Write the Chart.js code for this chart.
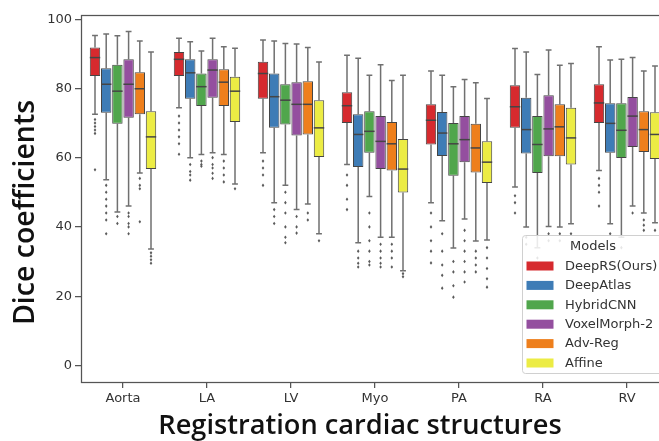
<!DOCTYPE html>
<html>
<head>
<meta charset="utf-8">
<script src="https://cdn.jsdelivr.net/npm/chart.js@4.4.0/dist/chart.umd.min.js"></script>
<style>
    html, body { margin: 0; padding: 0; background: #fff; overflow: hidden; }
    #wrap { width: 659px; height: 441px; overflow: hidden; position: relative; }
    canvas { display: block; }
</style>
</head>
<body>
<div id="wrap"><canvas id="myChart" width="680" height="441" style="width:680px;height:441px"></canvas></div>
<script>
const structures = ['Aorta', 'LA', 'LV', 'Myo', 'PA', 'RA', 'RV'];
const models = ['DeepRS(Ours)', 'DeepAtlas', 'HybridCNN', 'VoxelMorph-2', 'Adv-Reg', 'Affine'];
const modelColors = ['#d62a2e', '#3e7cb6', '#50a64c', '#944f9f', '#ee7f1c', '#ecec44'];
const yTicks = [0, 20, 40, 60, 80, 100];

// one row per model, one column per structure
const whiskerHigh = [
    [95.3, 94.5, 94.0, 89.6, 85.0, 91.5, 92.0],
    [95.7, 93.5, 93.7, 88.7, 83.8, 90.5, 88.2],
    [95.2, 90.8, 93.0, 83.8, 80.5, 84.0, 88.4],
    [96.4, 94.5, 92.8, 86.8, 82.6, 91.1, 88.9],
    [93.7, 92.0, 91.8, 82.3, 81.6, 86.7, 85.0],
    [90.5, 91.6, 87.6, 83.8, 77.1, 87.2, 86.5]
];
const q3 = [
    [91.8, 90.5, 87.7, 78.9, 75.4, 80.9, 81.2],
    [85.8, 88.4, 84.3, 72.5, 73.2, 77.3, 75.7],
    [86.8, 84.3, 81.2, 73.4, 70.0, 72.0, 75.7],
    [88.4, 88.4, 81.8, 72.0, 72.0, 78.0, 77.5],
    [84.7, 85.5, 82.1, 70.3, 69.8, 75.4, 73.4],
    [73.4, 83.4, 76.6, 65.4, 64.7, 74.4, 73.1]
];
const medians = [
    [88.9, 88.4, 84.3, 75.0, 70.8, 74.7, 75.8],
    [81.2, 84.5, 77.6, 66.7, 67.1, 68.1, 69.9],
    [79.2, 80.5, 76.6, 67.6, 64.0, 63.8, 67.9],
    [81.2, 85.3, 75.4, 64.7, 65.2, 68.3, 72.0],
    [79.9, 81.8, 75.4, 64.0, 62.8, 68.9, 68.1],
    [66.0, 79.2, 68.6, 56.7, 58.7, 65.7, 66.7]
];
const q1 = [
    [83.6, 83.6, 77.0, 70.0, 63.8, 68.6, 70.0],
    [73.0, 77.0, 68.6, 57.3, 60.5, 61.2, 61.4],
    [69.8, 74.9, 69.6, 61.4, 54.8, 55.6, 59.9],
    [71.5, 77.3, 66.4, 56.7, 58.7, 60.4, 63.1],
    [72.5, 74.9, 66.7, 56.3, 55.7, 60.4, 61.6],
    [56.7, 70.3, 60.2, 49.9, 52.7, 58.0, 59.6]
];
const whiskerLow = [
    [72.5, 74.4, 61.4, 58.0, 47.0, 51.5, 56.3],
    [53.6, 60.0, 47.0, 35.4, 41.8, 40.0, 40.9],
    [44.3, 60.9, 52.0, 48.8, 33.9, 34.0, 37.0],
    [46.0, 61.4, 45.0, 37.0, 42.3, 40.1, 46.0],
    [55.6, 60.9, 46.6, 37.0, 35.9, 40.0, 44.0],
    [33.6, 52.4, 38.0, 27.3, 36.2, 40.9, 41.2]
];
const fliers = [
    [[71, 70, 69, 68, 67, 56.5], [72, 70, 68, 66, 64, 61], [59, 57, 55, 52], [55, 52, 48, 45], [44, 40, 36, 33, 29.6], [49, 47, 44], [54, 52, 50, 46]],
    [[52, 50, 48, 46, 44, 42, 38], [58, 56, 55, 53.5], [45, 43, 41], [33, 31, 29.5, 28.4], [38, 33, 29, 26, 22.3], [37, 35], [38]],
    [[43, 41], [59, 58, 57.5], [50, 47, 44, 40, 37, 35.4], [44, 40, 36, 33, 30, 29], [30, 27, 23, 19.7], [31], [34]],
    [[44, 43, 41, 40, 38], [60, 58, 57, 55.5, 54], [43, 40, 38.2], [35, 33, 31, 29.5, 28.4], [39, 36, 33, 30, 27, 24.1], [38, 36], [44]],
    [[54, 52, 51, 41.5], [59, 57, 55, 53], [44, 42], [35, 33, 31, 28.4], [33, 31, 29, 27], [38, 36], [42, 40.5, 39]],
    [[32.5, 31.5, 30.5, 29.5], [51], [36], [26.5, 25.6], [34, 31, 28, 25, 22.6], [38], [39]]
];

const EDGE = '#454545';
const WHISKER = '#707070';

// font size that makes the text this wide
function fitFont(ctx, text, width) {
    ctx.font = '600 24px "Open Sans"';
    const w = ctx.measureText(text).width;
    return 24 * width / w;
}

const boxParts = {
    id: 'boxParts',
    beforeDatasetsDraw(chart) {
        const ctx = chart.ctx;
        const yScale = chart.scales.y;
        ctx.save();
        chart.data.datasets.forEach(function (ds, i) {
            chart.getDatasetMeta(i).data.forEach(function (bar, j) {
                const x = bar.x;
                const capW = bar.width * 0.28;
                const yHi = yScale.getPixelForValue(whiskerHigh[i][j]);
                const yLo = yScale.getPixelForValue(whiskerLow[i][j]);
                const yTop = yScale.getPixelForValue(q3[i][j]);
                const yBot = yScale.getPixelForValue(q1[i][j]);
                ctx.strokeStyle = WHISKER;
                ctx.lineWidth = 1.5;
                ctx.beginPath();
                ctx.moveTo(x, yTop); ctx.lineTo(x, yHi);
                ctx.moveTo(x, yBot); ctx.lineTo(x, yLo);
                ctx.moveTo(x - capW, yHi); ctx.lineTo(x + capW, yHi);
                ctx.moveTo(x - capW, yLo); ctx.lineTo(x + capW, yLo);
                ctx.stroke();
                ctx.fillStyle = '#5a5a5a';
                fliers[i][j].forEach(function (v) {
                    const py = yScale.getPixelForValue(v);
                    ctx.beginPath();
                    ctx.moveTo(x, py - 1.8);
                    ctx.lineTo(x + 1.3, py);
                    ctx.lineTo(x, py + 1.8);
                    ctx.lineTo(x - 1.3, py);
                    ctx.closePath();
                    ctx.fill();
                });
            });
        });
        ctx.restore();
    },
    afterDatasetsDraw(chart) {
        const ctx = chart.ctx;
        const yScale = chart.scales.y;
        ctx.save();
        ctx.strokeStyle = EDGE;
        ctx.lineWidth = 1.5;
        chart.data.datasets.forEach(function (ds, i) {
            chart.getDatasetMeta(i).data.forEach(function (bar, j) {
                const ym = yScale.getPixelForValue(medians[i][j]);
                ctx.beginPath();
                ctx.moveTo(bar.x - bar.width / 2, ym);
                ctx.lineTo(bar.x + bar.width / 2, ym);
                ctx.stroke();
            });
        });
        ctx.restore();
    },
    afterDraw(chart) {
        const ctx = chart.ctx;
        const a = chart.chartArea;
        ctx.save();
        // frame
        ctx.strokeStyle = '#555';
        ctx.lineWidth = 1.25;
        ctx.strokeRect(a.left + 0.5, a.top + 0.5, a.right - a.left, a.bottom - a.top);

        // axis titles
        const xTitle = 'Registration cardiac structures';
        const yTitle = 'Dice coefficients';
        ctx.fillStyle = '#111';
        ctx.textAlign = 'center';
        ctx.textBaseline = 'alphabetic';
        ctx.font = '600 ' + fitFont(ctx, xTitle, 404).toFixed(1) + 'px "Open Sans"';
        ctx.fillText(xTitle, 360, 434);
        ctx.save();
        ctx.font = '600 ' + fitFont(ctx, yTitle, 225).toFixed(1) + 'px "Open Sans"';
        ctx.translate(34, 212.5);
        ctx.rotate(-Math.PI / 2);
        ctx.fillText(yTitle, 0, 0);
        ctx.restore();

        // legend
        const lx = 522, ly = 235, lw = 142, lh = 138;
        ctx.fillStyle = 'rgba(255,255,255,0.85)';
        ctx.strokeStyle = '#d0d0d0';
        ctx.lineWidth = 1;
        ctx.beginPath();
        ctx.roundRect(lx + 0.5, ly + 0.5, lw, lh, 3);
        ctx.fill();
        ctx.stroke();
        ctx.fillStyle = '#333';
        ctx.font = '13px "DejaVu Sans"';
        ctx.textBaseline = 'middle';
        ctx.textAlign = 'center';
        ctx.fillText('Models', lx + lw / 2, ly + 12);
        ctx.textAlign = 'left';
        models.forEach(function (m, k) {
            const cy = ly + 31 + k * 19.4;
            ctx.fillStyle = modelColors[k];
            ctx.fillRect(lx + 4.5, cy - 4.5, 27, 9);
            ctx.fillStyle = '#333';
            ctx.fillText(m, lx + 43, cy + 0.5);
        });
        ctx.restore();
    }
};

const datasets = models.map(function (m, i) {
    return {
        label: m,
        data: structures.map(function (s, j) { return [q1[i][j], q3[i][j]]; }),
        backgroundColor: modelColors[i],
        borderColor: EDGE,
        borderWidth: 1,
        borderSkipped: false,
        barPercentage: 0.93,
        categoryPercentage: 0.8
    };
});

const ctx = document.getElementById('myChart').getContext('2d');
const myChart = new Chart(ctx, {
    type: 'bar',
    data: { labels: structures, datasets: datasets },
    plugins: [boxParts],
    options: {
        responsive: false,
        animation: false,
        layout: { padding: { left: 0, right: 11, top: 15, bottom: 0 } },
        plugins: { legend: { display: false }, tooltip: { enabled: false } },
        scales: {
            x: {
                grid: { offset: false, drawOnChartArea: false, drawTicks: true, tickLength: 6, color: '#555', lineWidth: 1.25 },
                border: { display: false },
                ticks: { color: '#333', padding: 3, font: { family: 'DejaVu Sans', size: 13 } },
                afterFit: function (scale) { scale.height = 59; }
            },
            y: {
                min: -4.8,
                max: 101.2,
                grid: { drawOnChartArea: false, drawTicks: true, tickLength: 6, color: '#555', lineWidth: 1.25 },
                border: { display: false },
                ticks: { color: '#333', padding: 3, font: { family: 'DejaVu Sans', size: 13 } },
                afterBuildTicks: function (scale) {
                    scale.ticks = yTicks.map(function (v) { return { value: v }; });
                },
                afterFit: function (scale) { scale.width = 81; }
            }
        }
    }
});
</script>
</body>
</html>
